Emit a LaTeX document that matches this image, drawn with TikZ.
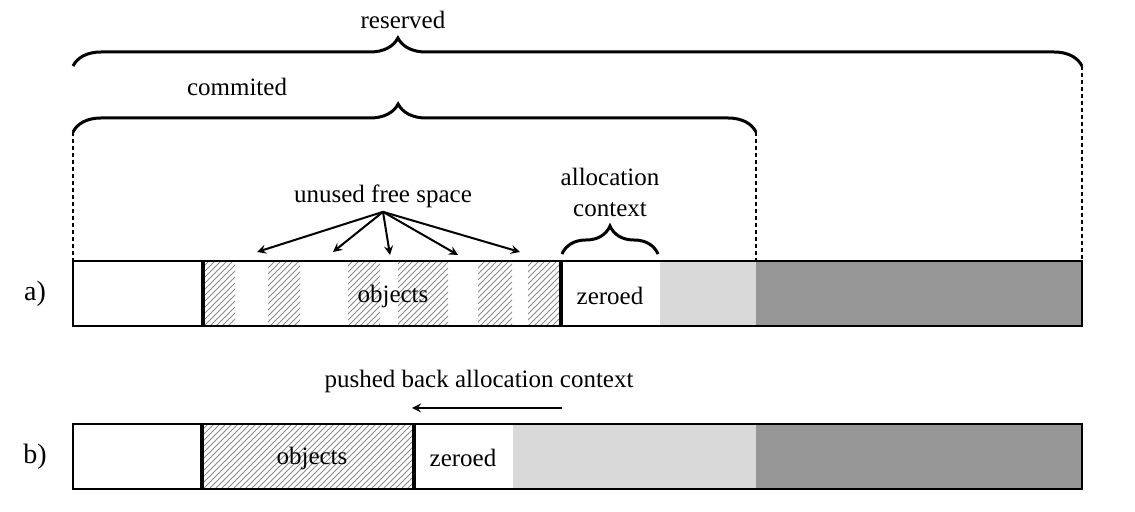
\documentclass[tikz,border=0pt]{standalone}
\usepackage{fontspec}
\setmainfont{Liberation Serif}
\usetikzlibrary{positioning}
\usetikzlibrary{arrows}
\usetikzlibrary{decorations.pathreplacing}
\usetikzlibrary{patterns}
\definecolor{light}{rgb}{0.85,0.85,0.85}
\definecolor{dark}{rgb}{0.59,0.59,0.59}
\definecolor{hatch}{rgb}{0.55,0.55,0.55}

\begin{document}
\begin{tikzpicture}
    [x=0.5pt, y=-0.5pt,
    every node/.style={font=\fontsize{12.5}{15.5}\selectfont, inner sep=2pt},
    row/.style={font=\fontsize{14}{16}\selectfont},
    objs/.style={pattern=north east lines, pattern color=hatch},
    border/.style={line width=1.2pt},
    split/.style={line width=2pt},
    guide/.style={line width=0.9pt, dash pattern=on 2pt off 1.5pt},
    bracket/.style={decorate, decoration={brace, amplitude=14pt}, line width=1.5pt},
    >=stealth]
     \useasboundingbox (0,0) rectangle (1135,512);
     %\draw[step=50,gray,very thin] (0,0) grid (1135,512);
     \node (reserved) at (403, 20)     {reserved};
     \node (commited) at (237, 87)     {commited};
     \node (free) at (383, 196)        {unused free space};
     \node[align=center] (ctx) at (610, 192) {allocation\\context};
     \node (pushed) at (479, 381)      {pushed back allocation context};
     \node[row] (a) at (35, 294)       {a)};
     \node[row] (b) at (35, 457)       {b)};
     \coordinate (r0) at (73, 66);
     \coordinate (r1) at (1082, 66);
     \coordinate (c0) at (73, 132);
     \coordinate (c1) at (756, 132);
     \coordinate (x0) at (562, 254);
     \coordinate (x1) at (658, 254);
     \coordinate (g1) at (257, 252);
     \coordinate (g2) at (333, 252);
     \coordinate (g3) at (390, 255);
     \coordinate (g4) at (458, 255);
     \coordinate (g5) at (520, 252);
     \coordinate (p0) at (562, 408);
     \coordinate (p1) at (412, 408);
     % bar a)
     \fill[light] (660, 261) rectangle (756, 326);
     \fill[dark] (756, 261) rectangle (1082, 326);
     \fill[objs] (203, 261) rectangle (235, 326);
     \fill[objs] (268, 261) rectangle (300, 326);
     \fill[objs] (348, 261) rectangle (380, 326);
     \fill[objs] (398, 261) rectangle (448, 326);
     \fill[objs] (478, 261) rectangle (512, 326);
     \fill[objs] (528, 261) rectangle (561, 326);
     \draw[split] (203, 261) -- (203, 326);
     \draw[split] (561, 261) -- (561, 326);
     \draw[border] (73, 261) rectangle (1082, 326);
     \node (objA) at (393, 296)        {objects};
     \node (zeroA) at (610, 296)       {zeroed};
     % bar b)
     \fill[objs] (202, 424) rectangle (414, 489);
     \fill[light] (513, 424) rectangle (756, 489);
     \fill[dark] (756, 424) rectangle (1082, 489);
     \draw[split] (202, 424) -- (202, 489);
     \draw[split] (414, 424) -- (414, 489);
     \draw[border] (73, 424) rectangle (1082, 489);
     \node (objB) at (312, 458)        {objects};
     \node (zeroB) at (463, 458)       {zeroed};
     % braces
     \draw[bracket, decoration={aspect=0.322}] (r0) -- (r1);
     \draw[bracket, decoration={aspect=0.476}] (c0) -- (c1);
     \draw[bracket, decoration={aspect=0.5}] (x0) -- (x1);
     \draw[guide] (c0) -- (73, 261);
     \draw[guide] (c1) -- (756, 261);
     \draw[guide] (r1) -- (1082, 261);
     % arrows
     \draw[->, line width=1pt] (free.south) -- (g1);
     \draw[->, line width=1pt] (free.south) -- (g2);
     \draw[->, line width=1pt] (free.south) -- (g3);
     \draw[->, line width=1pt] (free.south) -- (g4);
     \draw[->, line width=1pt] (free.south) -- (g5);
     \draw[->, line width=1pt] (p0) -- (p1);
\end{tikzpicture}
\end{document}
